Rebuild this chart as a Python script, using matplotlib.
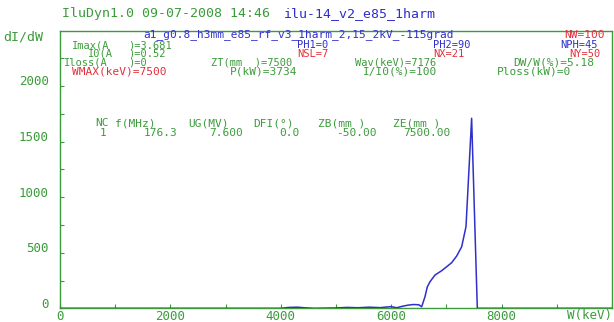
import matplotlib
matplotlib.use("Agg")
import matplotlib.pyplot as plt
import matplotlib.transforms as mtransforms

# spectrum dI/dW versus W (keV)
w_kev = [0, 1000, 2000, 3000, 4000, 4150, 4300, 4450, 4600, 5000, 5200,
         5400, 5600, 5800, 6000, 6100, 6200, 6300, 6400, 6500, 6552, 6612,
         6655, 6703, 6793, 6914, 7005, 7095, 7186, 7277, 7355, 7457, 7560,
         8000, 10000]
di_dw = [0, 0, 0, 0, 0, 8, 10, 4, 0, 3, 8, 5, 10, 6, 15, 5, 18, 28, 34,
         32, 14, 104, 194, 239, 299, 338, 374, 410, 470, 554, 734, 1709, 0,
         0, 0]

x_ticks = [0, 2000, 4000, 6000, 8000]
y_ticks = [0, 500, 1000, 1500, 2000]

# cavity table
nc_heads = ["NC", "f(MHz)", "UG(MV)", "DFI(°)", "ZB(mm )", "ZE(mm )"]
nc_vals = ["1", "176.3", "7.600", "0.0", "-50.00", "7500.00"]

GREEN = "#3b9b3b"
BLUE = "#2f2fcc"
RED = "#e3303a"
MONO = "DejaVu Sans Mono"

W, H = 614, 322
fig = plt.figure(figsize=(W / 100, H / 100), dpi=100)
ax = fig.add_axes([60 / W, 1 - 308.3 / H, 552 / W, 277.3 / H])

ax.plot(w_kev, di_dw, color=BLUE, lw=1.1, zorder=3)
ax.set_xlim(0, 10000)
ax.set_ylim(0, 2494)

for s in ax.spines.values():
    s.set_color(GREEN)
    s.set_linewidth(1.0)

ax.set_xticks(range(0, 10001, 1000))
ax.set_yticks(range(0, 2494, 250))
ax.set_xticklabels([])
ax.set_yticklabels([])
ax.tick_params(direction="in", length=3, color=GREEN, width=0.8)


def ptext(x, y, s, color, size=7.5, ha="left"):
    fig.text(x / W, 1 - y / H, s, color=color, fontsize=size, family=MONO,
             ha=ha, va="center")


# tick labels (every second tick)
for v in x_ticks:
    ax.text(v, 0, str(v), transform=mtransforms.offset_copy(
                ax.get_xaxis_transform(), fig=fig, x=0, y=-8, units="dots"),
            ha="center", va="center", color=GREEN, fontsize=9, family=MONO)
lab_off = mtransforms.offset_copy(ax.get_yaxis_transform(), fig=fig, x=0, y=4, units="dots")
for v in y_ticks:
    ax.text(-0.02, v, str(v), transform=lab_off,
            ha="right", va="center", color=GREEN, fontsize=9, family=MONO)

ptext(612, 316, "W(keV)", GREEN, 9, ha="right")
ptext(3, 37, "dI/dW", GREEN, 9.5)

ptext(62, 14, "IluDyn1.0 09-07-2008 14:46", GREEN, 9.5)
ptext(284, 14, "ilu-14_v2_e85_1harm", BLUE, 9.5)

# parameter block
ptext(143, 35, "a1_g0.8_h3mm_e85_rf_v3_1harm_2,15_2kV_-115grad", BLUE, 8)
ptext(605, 35, "NW=100", RED, 8, ha="right")

ptext(72, 45.5, "Imax(A", GREEN)
ptext(128, 45.5, ")=3.681", GREEN)
ptext(297, 45.5, "PH1=0", BLUE)
ptext(433, 45.5, "PH2=90", BLUE)
ptext(598, 45.5, "NPH=45", BLUE, ha="right")

ptext(88, 54, "I0(A", GREEN)
ptext(128, 54, ")=0.52", GREEN)
ptext(297, 54, "NSL=7", RED)
ptext(433, 54, "NX=21", RED)
ptext(600, 54, "NY=50", RED, ha="right")

ptext(64, 62.5, "Iloss(A", GREEN)
ptext(128, 62.5, ")=0", GREEN)
ptext(211, 62.5, "ZT(mm  )=7500", GREEN)
ptext(355, 62.5, "Wav(keV)=7176", GREEN)
ptext(513, 62.5, "DW/W(%)=5.18", GREEN, 8)

ptext(72, 71.5, "WMAX(keV)=7500", RED, 8)
ptext(230, 71.5, "P(kW)=3734", GREEN, 8)
ptext(363, 71.5, "I/I0(%)=100", GREEN, 8)
ptext(497, 71.5, "Ploss(kW)=0", GREEN, 8)

head_x = [95, 115, 188, 253, 318, 393]
val_right = [106, 177, 243, 300, 377, 450]
for hx, vr, hd, vl in zip(head_x, val_right, nc_heads, nc_vals):
    ptext(hx, 123.5, hd, GREEN, 8)
    ptext(vr, 133, vl, GREEN, 8, ha="right")

fig.savefig("out.png", dpi=100)
